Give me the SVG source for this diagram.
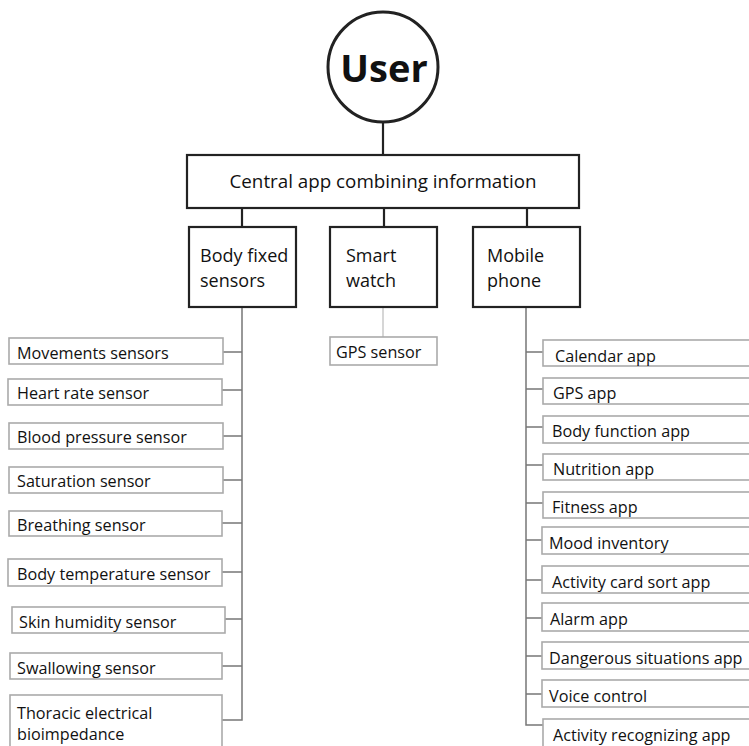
<svg xmlns="http://www.w3.org/2000/svg" width="749" height="746" viewBox="0 0 749 746">
<style>
text{font-family:"Open Sans","Noto Sans",sans-serif;fill:#111}
.main{fill:#fff;stroke:#222;stroke-width:2.2}
.leaf{fill:#fff;stroke:#aaa;stroke-width:1.6}
.mt{font-size:18px}
.ct{font-size:18.8px}
.lt{font-size:16.2px}
.con{stroke:#222;stroke-width:2.2;fill:none}
.br{stroke:#777;stroke-width:1.5;fill:none}
</style>
<rect width="749" height="746" fill="#fff"/>
<g id="connectors">
<line class="con" x1="383" y1="122" x2="383" y2="155"/>
<line class="con" x1="242" y1="208" x2="242" y2="227"/>
<line class="con" x1="384" y1="208" x2="384" y2="227"/>
<line class="con" x1="527" y1="208" x2="527" y2="227"/>
<line x1="383" y1="307" x2="383" y2="337" stroke="#c8c8c8" stroke-width="1.5"/>
<path class="br" d="M242 307 V720 H222 M242 352 H223 M242 390 H222 M242 436 H223 M242 480 H223 M242 523 H222 M242 572 H222 M242 619 H225 M242 666 H222"/>
<path class="br" d="M526 307 V725 H543 M526 352 H543 M526 389 H543 M526 427 H543 M526 465 H543 M526 503 H543 M526 540 H542 M526 580 H542 M526 618 H542 M526 656 H542 M526 694 H542"/>
</g>
<g id="user">
<circle cx="383" cy="67" r="55" fill="#fff" stroke="#222" stroke-width="3"/>
<text x="384" y="82" text-anchor="middle" font-size="38" font-weight="bold">User</text>
</g>
<g id="central">
<rect class="main" x="187" y="155" width="392" height="53"/>
<text class="ct" x="383" y="188" text-anchor="middle">Central app combining information</text>
</g>
<g id="body-fixed">
<rect class="main" x="189" y="227" width="107" height="80"/>
<text class="mt" x="200" y="262">Body fixed</text>
<text class="mt" x="200" y="287">sensors</text>
</g>
<g id="smart-watch">
<rect class="main" x="330" y="227" width="107" height="80"/>
<text class="mt" x="346" y="262">Smart</text>
<text class="mt" x="346" y="287">watch</text>
</g>
<g id="mobile-phone">
<rect class="main" x="473" y="227" width="107" height="80"/>
<text class="mt" x="487" y="262">Mobile</text>
<text class="mt" x="487" y="287">phone</text>
</g>
<g id="gps-sensor">
<rect class="leaf" x="330" y="337" width="107" height="28"/>
<text class="lt" x="336" y="358">GPS sensor</text>
</g>
<g id="movements"><rect class="leaf" x="9" y="338" width="214" height="26"/><text class="lt" x="17" y="359">Movements sensors</text></g>
<g id="heart-rate"><rect class="leaf" x="8" y="379" width="214" height="26"/><text class="lt" x="17" y="399">Heart rate sensor</text></g>
<g id="blood-pressure"><rect class="leaf" x="9" y="423" width="214" height="26"/><text class="lt" x="17" y="443">Blood pressure sensor</text></g>
<g id="saturation"><rect class="leaf" x="9" y="467" width="214" height="26"/><text class="lt" x="17" y="487">Saturation sensor</text></g>
<g id="breathing"><rect class="leaf" x="9" y="511" width="213" height="25"/><text class="lt" x="17" y="531">Breathing sensor</text></g>
<g id="body-temperature"><rect class="leaf" x="8" y="559" width="214" height="27"/><text class="lt" x="17" y="580">Body temperature sensor</text></g>
<g id="skin-humidity"><rect class="leaf" x="12" y="607" width="213" height="26"/><text class="lt" x="19" y="628">Skin humidity sensor</text></g>
<g id="swallowing"><rect class="leaf" x="10" y="653" width="212" height="26"/><text class="lt" x="17" y="674">Swallowing sensor</text></g>
<g id="thoracic"><rect class="leaf" x="10" y="695" width="212" height="70"/><text class="lt" x="17" y="719">Thoracic electrical</text><text class="lt" x="17" y="740">bioimpedance</text></g>
<g id="calendar"><rect class="leaf" x="543" y="340" width="215" height="26"/><text class="lt" x="555" y="362">Calendar app</text></g>
<g id="gps-app"><rect class="leaf" x="543" y="378" width="215" height="26"/><text class="lt" x="553" y="399">GPS app</text></g>
<g id="body-function"><rect class="leaf" x="543" y="416" width="215" height="27"/><text class="lt" x="552" y="437">Body function app</text></g>
<g id="nutrition"><rect class="leaf" x="543" y="454" width="215" height="26"/><text class="lt" x="553" y="475">Nutrition app</text></g>
<g id="fitness"><rect class="leaf" x="543" y="492" width="215" height="26"/><text class="lt" x="552" y="513">Fitness app</text></g>
<g id="mood"><rect class="leaf" x="542" y="527" width="216" height="27"/><text class="lt" x="549" y="549">Mood inventory</text></g>
<g id="activity-card"><rect class="leaf" x="542" y="566" width="216" height="27"/><text class="lt" x="552" y="588">Activity card sort app</text></g>
<g id="alarm"><rect class="leaf" x="542" y="603" width="216" height="28"/><text class="lt" x="550" y="625">Alarm app</text></g>
<g id="dangerous"><rect class="leaf" x="542" y="642" width="216" height="27"/><text class="lt" x="549" y="664">Dangerous situations app</text></g>
<g id="voice"><rect class="leaf" x="542" y="680" width="216" height="27"/><text class="lt" x="549" y="702">Voice control</text></g>
<g id="activity-recognizing"><rect class="leaf" x="543" y="719" width="215" height="40"/><text class="lt" x="553" y="741">Activity recognizing app</text></g>
</svg>
